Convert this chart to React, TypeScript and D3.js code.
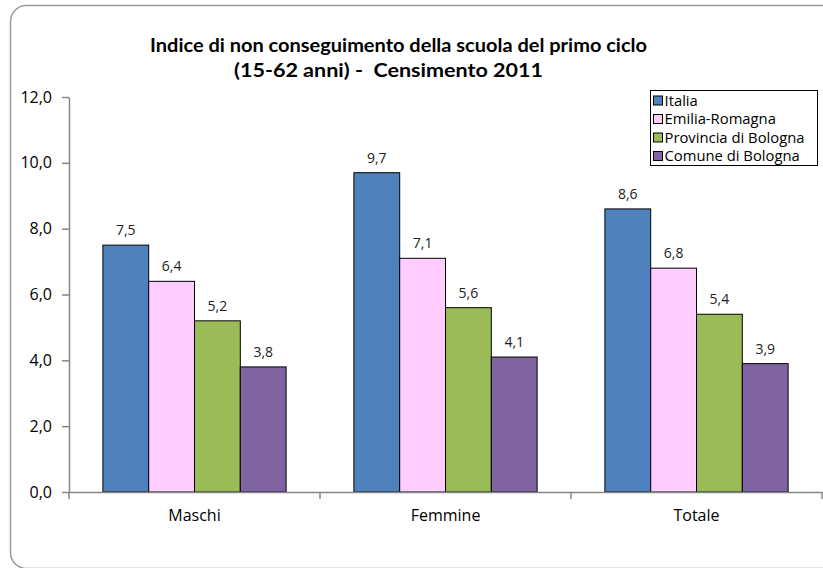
import React, { useEffect, useRef } from 'react';
import * as d3 from 'd3';

const categories = ['Maschi', 'Femmine', 'Totale'];
const seriesNames = ['Italia', 'Emilia-Romagna', 'Provincia di Bologna', 'Comune di Bologna'];
const italia = [7.5, 9.7, 8.6];
const emiliaRomagna = [6.4, 7.1, 6.8];
const provinciaBologna = [5.2, 5.6, 5.4];
const comuneBologna = [3.8, 4.1, 3.9];
const yTicks = [0, 2, 4, 6, 8, 10, 12];
const colors = ['#4F81BD', '#FFCCFF', '#9BBB59', '#8064A2'];

const W = 823;
const H = 568;
const FONT = '"Open Sans", sans-serif';
const TITLE_FONT = 'Lato, "Open Sans", sans-serif';

const fmt = (v: number) => d3.format('.1f')(v).replace('.', ',');

export default function App() {
  const ref = useRef<SVGSVGElement>(null);

  useEffect(() => {
    const svg = d3.select(ref.current);
    svg.selectAll('*').remove();

    const series = [italia, emiliaRomagna, provinciaBologna, comuneBologna];

    // outer frame, runs off the right edge
    svg.append('rect')
      .attr('x', 10.5).attr('y', 5.5)
      .attr('width', 840).attr('height', 563)
      .attr('rx', 16)
      .attr('fill', '#fff')
      .attr('stroke', '#9a9a9a')
      .attr('stroke-width', 1.5);

    const left = 69, right = 822, top = 97, bottom = 492;

    const y = d3.scaleLinear().domain([0, 12]).range([bottom, top]);
    const x0 = d3.scaleBand().domain(categories).range([left, right]).paddingInner(0.27).paddingOuter(0.135);
    const x1 = d3.scaleBand().domain(seriesNames).range([0, x0.bandwidth()]);

    // title
    const title = svg.append('text')
      .attr('font-family', TITLE_FONT)
      .attr('font-weight', 'bold')
      .attr('font-size', 19)
      .attr('fill', '#000');
    title.append('tspan').attr('x', 150).attr('y', 52)
      .attr('textLength', 497).attr('lengthAdjust', 'spacingAndGlyphs')
      .text('Indice di non conseguimento della scuola del primo ciclo');
    title.append('tspan').attr('x', 234).attr('y', 77)
      .attr('textLength', 309).attr('lengthAdjust', 'spacingAndGlyphs')
      .attr('xml:space', 'preserve')
      .text('(15-62 anni) -  Censimento 2011');

    // bars and value labels
    const g = svg.append('g');
    categories.forEach((cat, ci) => {
      series.forEach((vals, si) => {
        const bx = x0(cat)! + x1(seriesNames[si])!;
        g.append('rect')
          .attr('x', bx)
          .attr('y', y(vals[ci]))
          .attr('width', x1.bandwidth())
          .attr('height', y(0) - y(vals[ci]))
          .attr('fill', colors[si])
          .attr('stroke', '#000')
          .attr('stroke-width', 1);
        g.append('text')
          .attr('x', bx + x1.bandwidth() / 2)
          .attr('y', y(vals[ci]) - 10)
          .attr('text-anchor', 'middle')
          .attr('font-family', FONT)
          .attr('font-size', 14)
          .attr('fill', '#222')
          .text(fmt(vals[ci]));
      });
    });

    // y axis
    const yAxis = svg.append('g')
      .attr('transform', `translate(${left},0)`)
      .call(d3.axisLeft(y).tickValues(yTicks).tickSize(7).tickSizeOuter(0)
        .tickFormat((d) => fmt(d as number)));
    yAxis.select('.domain').attr('stroke', '#868686').attr('stroke-width', 1.5);
    yAxis.selectAll('line').attr('stroke', '#868686').attr('stroke-width', 1.5);
    yAxis.selectAll('text')
      .attr('font-family', FONT)
      .attr('font-size', 16)
      .attr('fill', '#000')
      .attr('x', -17);

    // x axis
    const xAxis = svg.append('g')
      .attr('transform', `translate(0,${bottom})`)
      .call(d3.axisBottom(x0).tickSize(0).tickSizeOuter(0).tickPadding(18));
    xAxis.select('.domain').attr('stroke', '#868686').attr('stroke-width', 1.5);
    xAxis.selectAll('text')
      .attr('font-family', FONT)
      .attr('font-size', 16)
      .attr('fill', '#000');
    // category boundary ticks
    const bounds = [left, ...categories.slice(1).map((c) => x0(c)! - (x0.step() - x0.bandwidth()) / 2), right];
    xAxis.selectAll('.bound').data(bounds).enter().append('line')
      .attr('x1', (d) => d).attr('x2', (d) => d)
      .attr('y1', 0).attr('y2', 7)
      .attr('stroke', '#868686').attr('stroke-width', 1.5);

    // legend
    const lg = svg.append('g').attr('transform', 'translate(650.5,90.5)');
    lg.append('rect').attr('width', 167).attr('height', 75)
      .attr('fill', '#fff').attr('stroke', '#000').attr('stroke-width', 1);
    seriesNames.forEach((name, i) => {
      const ly = 10 + i * 18.5;
      lg.append('rect').attr('x', 3).attr('y', ly - 4.5).attr('width', 9).attr('height', 9)
        .attr('fill', colors[i]).attr('stroke', '#000').attr('stroke-width', 1);
      lg.append('text').attr('x', 14).attr('y', ly + 5)
        .attr('font-family', FONT).attr('font-size', 14.8).attr('fill', '#000').text(name);
    });
  }, []);

  return (
    <svg ref={ref} width={W} height={H} style={{ position: 'absolute', left: 0, top: 0 }} />
  );
}
